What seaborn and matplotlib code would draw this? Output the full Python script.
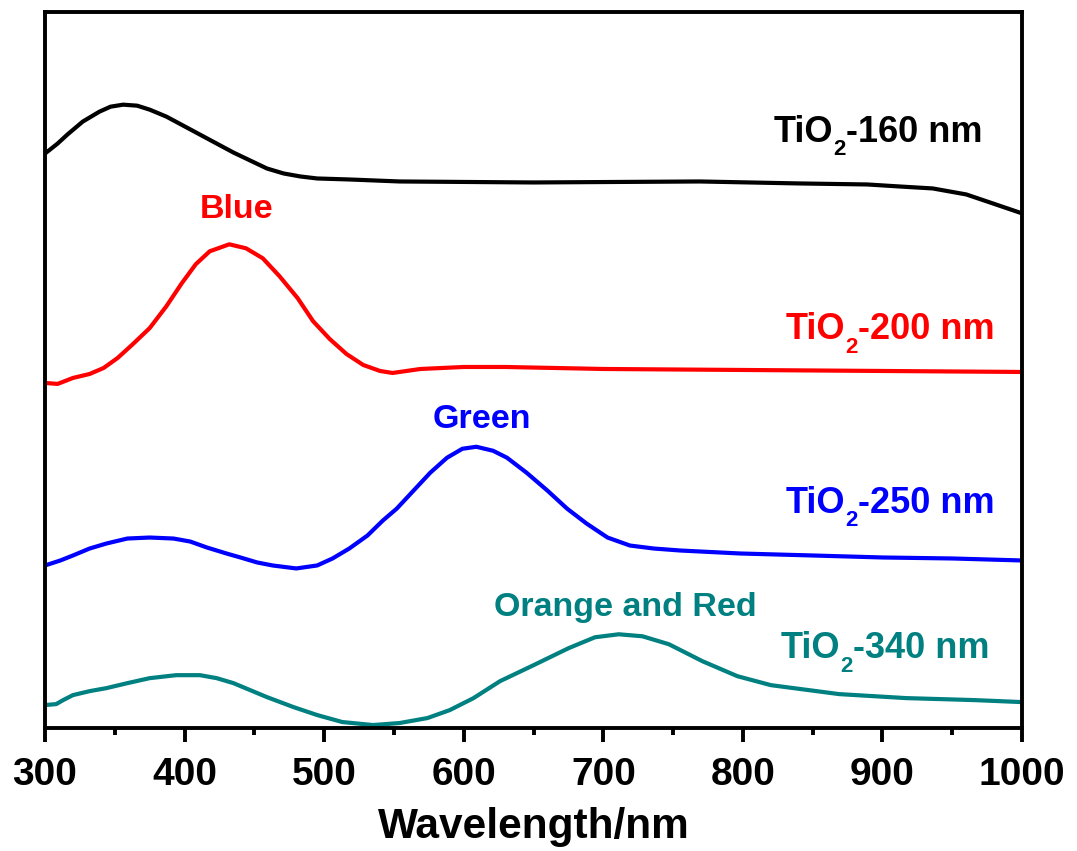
import numpy as np
import pandas as pd
import seaborn as sns
import matplotlib.pyplot as plt

# values (arbitrary absorbance units, curves stacked)
wl_160 = [300, 309, 316, 327, 339, 347, 356, 366, 375, 387, 399, 411, 423, 435, 447, 459, 471, 483, 495, 518,
          554, 650, 769, 841, 889, 912, 936, 960, 979, 1000]
ab_160 = [576, 586, 595, 608, 618, 623, 625, 624, 620, 613, 604, 595, 586, 577, 569, 561, 556, 553, 551, 550,
          548, 547, 548, 546, 545, 543, 541, 535, 526, 516]

wl_200 = [300, 309, 320, 332, 342, 352, 363, 375, 387, 398, 408, 418, 432, 444, 456, 468, 481, 492, 504, 516,
          528, 540, 549, 559, 569, 600, 630, 700, 800, 900, 1000]
ab_200 = [346, 345, 351, 355, 361, 371, 385, 401, 423, 446, 465, 478, 485, 481, 471, 453, 431, 408, 390, 375,
          364, 358, 356, 358, 360, 362, 362, 360, 359, 358, 357]

wl_250 = [300, 311, 320, 332, 344, 359, 375, 392, 404, 416, 430, 440, 452, 463, 480, 495, 506, 518, 531, 542,
          552, 564, 576, 588, 599, 609, 621, 631, 645, 660, 674, 688, 703, 719, 736, 755, 798, 850, 900, 950, 1000]
ab_250 = [163, 168, 173, 180, 185, 190, 191, 190, 187, 181, 175, 171, 166, 163, 160, 163, 170, 180, 193, 208,
          220, 238, 256, 271, 280, 282, 278, 271, 256, 238, 220, 205, 191, 183, 180, 178, 175, 173, 171, 170, 168]

wl_340 = [300, 308, 313, 320, 332, 344, 359, 375, 394, 411, 423, 435, 447, 459, 478, 495, 513, 535, 554, 574,
          590, 607, 626, 650, 675, 694, 711, 728, 747, 771, 796, 820, 869, 917, 966, 1000]
ab_340 = [23, 24, 28, 33, 37, 40, 45, 50, 53, 53, 50, 45, 38, 31, 21, 13, 6, 3, 5, 10,
          18, 30, 47, 63, 80, 91, 94, 92, 84, 67, 52, 43, 34, 30, 28, 26]

sizes = ['-160 nm', '-200 nm', '-250 nm', '-340 nm']
colours = ['#000000', '#FF0000', '#0000FF', '#008080']
peak_names = [None, 'Blue', 'Green', 'Orange and Red']

sns.set_style('white')
plt.rcParams['font.family'] = ['Liberation Sans', 'DejaVu Sans']
plt.rcParams['font.weight'] = 'bold'
plt.rcParams['text.color'] = 'black'
plt.rcParams['axes.labelcolor'] = 'black'
plt.rcParams['xtick.color'] = 'black'

fig = plt.figure(figsize=(10.77, 8.51), dpi=100)
ax = fig.add_axes([0.0418, 0.1445, 0.9072, 0.8415])

spectra = [(wl_160, ab_160), (wl_200, ab_200), (wl_250, ab_250), (wl_340, ab_340)]
for (wl, ab), c in zip(spectra, colours):
    sns.lineplot(x=wl, y=ab, color=c, linewidth=3.0, ax=ax)

# sample labels "TiO2-xxx nm", built from pieces so the subscript sits low like the original
lab_x = [972, 980.5, 980.5, 977]
lab_y = [588, 390, 216, 70]
for s, c, x, y in zip(sizes, colours, lab_x, lab_y):
    tail = ax.text(x, y, s, color=c, fontsize=26, fontweight='bold', ha='right', va='baseline')
    sub = ax.annotate('2', xy=(0, y), xycoords=(tail, 'data'), xytext=(-0.3, -10),
                      textcoords='offset points', color=c, fontsize=16, fontweight='bold',
                      ha='right', va='baseline')
    ax.annotate('TiO', xy=(0, y), xycoords=(sub, 'data'), xytext=(-0.3, 0),
                textcoords='offset points', color=c, fontsize=26, fontweight='bold',
                ha='right', va='baseline')

# colour labels above the peaks
pk_x = [None, 437.5, 612.7, 715.5]
pk_y = [None, 511, 301, 112]
for t, c, x, y in zip(peak_names, colours, pk_x, pk_y):
    if t is None:
        continue
    ax.text(x, y, t, color=c, fontsize=24.5, fontweight='bold', ha='center', va='baseline')

ax.set_xlim(300, 1000)
ax.set_ylim(0, 718)
ax.set_xticks(range(300, 1001, 100))
ax.set_xticks(range(350, 1000, 100), minor=True)
ax.set_yticks([])
ax.tick_params(axis='x', which='major', direction='out', length=10, width=2.8,
               labelsize=28, pad=11, bottom=True)
ax.tick_params(axis='x', which='minor', direction='out', length=5, width=2.8, bottom=True)
for t in ax.get_xticklabels():
    t.set_fontweight('bold')
for s in ax.spines.values():
    s.set_linewidth(2.8)
    s.set_color('black')
ax.set_xlabel('Wavelength/nm', fontsize=30.5, fontweight='bold', labelpad=10)

fig.savefig('out.png', dpi=100)
